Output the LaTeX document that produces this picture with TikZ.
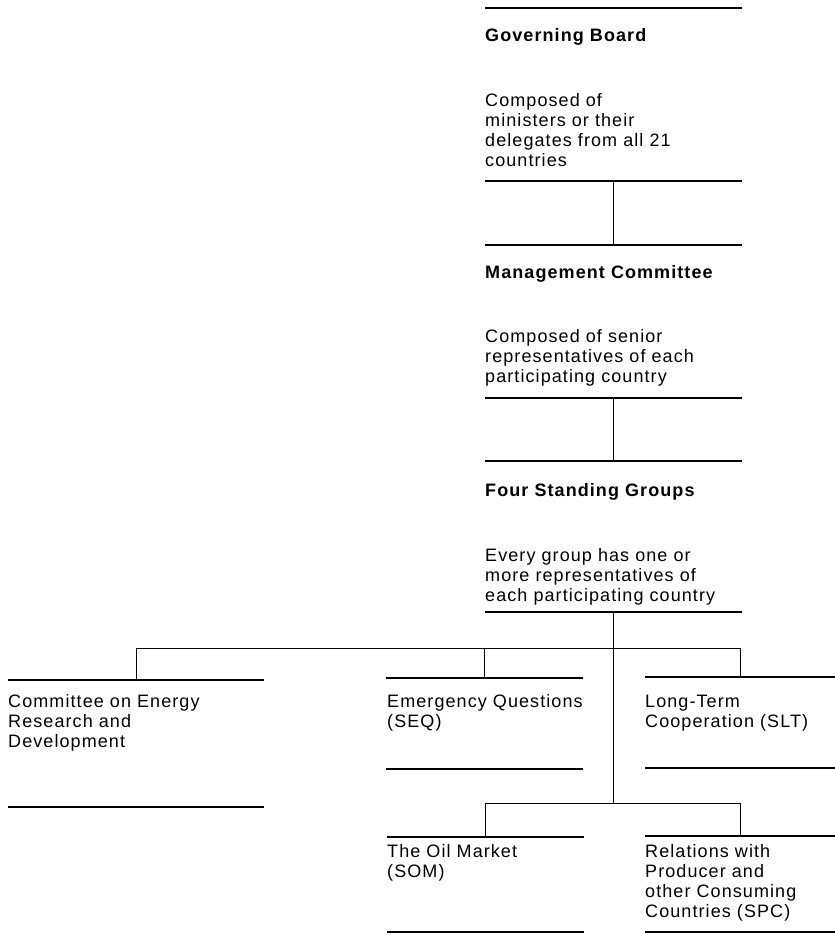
\documentclass[tikz,border=0pt]{standalone}
\usepackage{fontspec}
\setmainfont{Liberation Sans}[LetterSpace=6]
\begin{document}
\begin{tikzpicture}[x=1pt,y=-1pt,
  box/.style={rectangle,inner sep=0pt,outer sep=0pt,anchor=north west},
  rule/.style={line width=1.6pt},
  link/.style={line width=0.9pt},
  txt/.style={anchor=base west,inner sep=0pt,font=\fontsize{18}{20.3}\selectfont},
  head/.style={txt,font=\fontsize{18}{20.3}\selectfont\bfseries}]
\useasboundingbox (0,0) rectangle (835,935);
% boxes (areas between two rules)
\node[box,minimum width=257pt,minimum height=173pt] (gb)  at (485,8)   {};
\node[box,minimum width=257pt,minimum height=153pt] (mc)  at (485,245) {};
\node[box,minimum width=257pt,minimum height=151pt] (fsg) at (485,461) {};
\node[box,minimum width=256pt,minimum height=127pt] (cer) at (8,680)   {};
\node[box,minimum width=197pt,minimum height=91pt]  (seq) at (386,678) {};
\node[box,minimum width=190pt,minimum height=91pt]  (slt) at (645,677) {};
\node[box,minimum width=197pt,minimum height=95pt]  (som) at (387,837) {};
\node[box,minimum width=190pt,minimum height=96pt]  (spc) at (645,836) {};
\foreach \b in {gb,mc,fsg,cer,seq,slt,som,spc}{
  \draw[rule] (\b.north west) -- (\b.north east);
  \draw[rule] (\b.south west) -- (\b.south east);
}
% texts
\node[head] (gbh) at (485,41) {Governing Board};
\node[txt] (gbt) at (485,106) {\begin{tabular}[t]{@{}l@{}}Composed of\\ministers or their\\delegates from all 21\\countries\end{tabular}};
\node[head] (mch) at (485,278) {Management Committee};
\node[txt] (mct) at (485,342) {\begin{tabular}[t]{@{}l@{}}Composed of senior\\representatives of each\\participating country\end{tabular}};
\node[head] (fsgh) at (485,496) {Four Standing Groups};
\node[txt] (fsgt) at (485,561) {\begin{tabular}[t]{@{}l@{}}Every group has one or\\more representatives of\\each participating country\end{tabular}};
\node[txt] (cert) at (8,707) {\begin{tabular}[t]{@{}l@{}}Committee on Energy\\Research and\\Development\end{tabular}};
\node[txt] (seqt) at (387,707) {\begin{tabular}[t]{@{}l@{}}Emergency Questions\\(SEQ)\end{tabular}};
\node[txt] (sltt) at (645,707) {\begin{tabular}[t]{@{}l@{}}Long-Term\\Cooperation (SLT)\end{tabular}};
\node[txt] (somt) at (387,857) {\begin{tabular}[t]{@{}l@{}}The Oil Market\\(SOM)\end{tabular}};
\node[txt] (spct) at (645,857) {\begin{tabular}[t]{@{}l@{}}Relations with\\Producer and\\other Consuming\\Countries (SPC)\end{tabular}};
% connectors
\coordinate (hub1) at (614,648);
\coordinate (hub2) at (614,803);
\draw[link] (gb.south) -- (mc.north);
\draw[link] (mc.south) -- (fsg.north);
\draw[link] (fsg.south) -- (fsg.south |- hub2);
\draw[link] (cer.north) -- (cer.north |- hub1) -- (slt.north |- hub1) -- (slt.north);
\draw[link] (seq.north) -- (seq.north |- hub1);
\draw[link] (som.north) -- (som.north |- hub2) -- (spc.north |- hub2) -- (spc.north);
\end{tikzpicture}
\end{document}
